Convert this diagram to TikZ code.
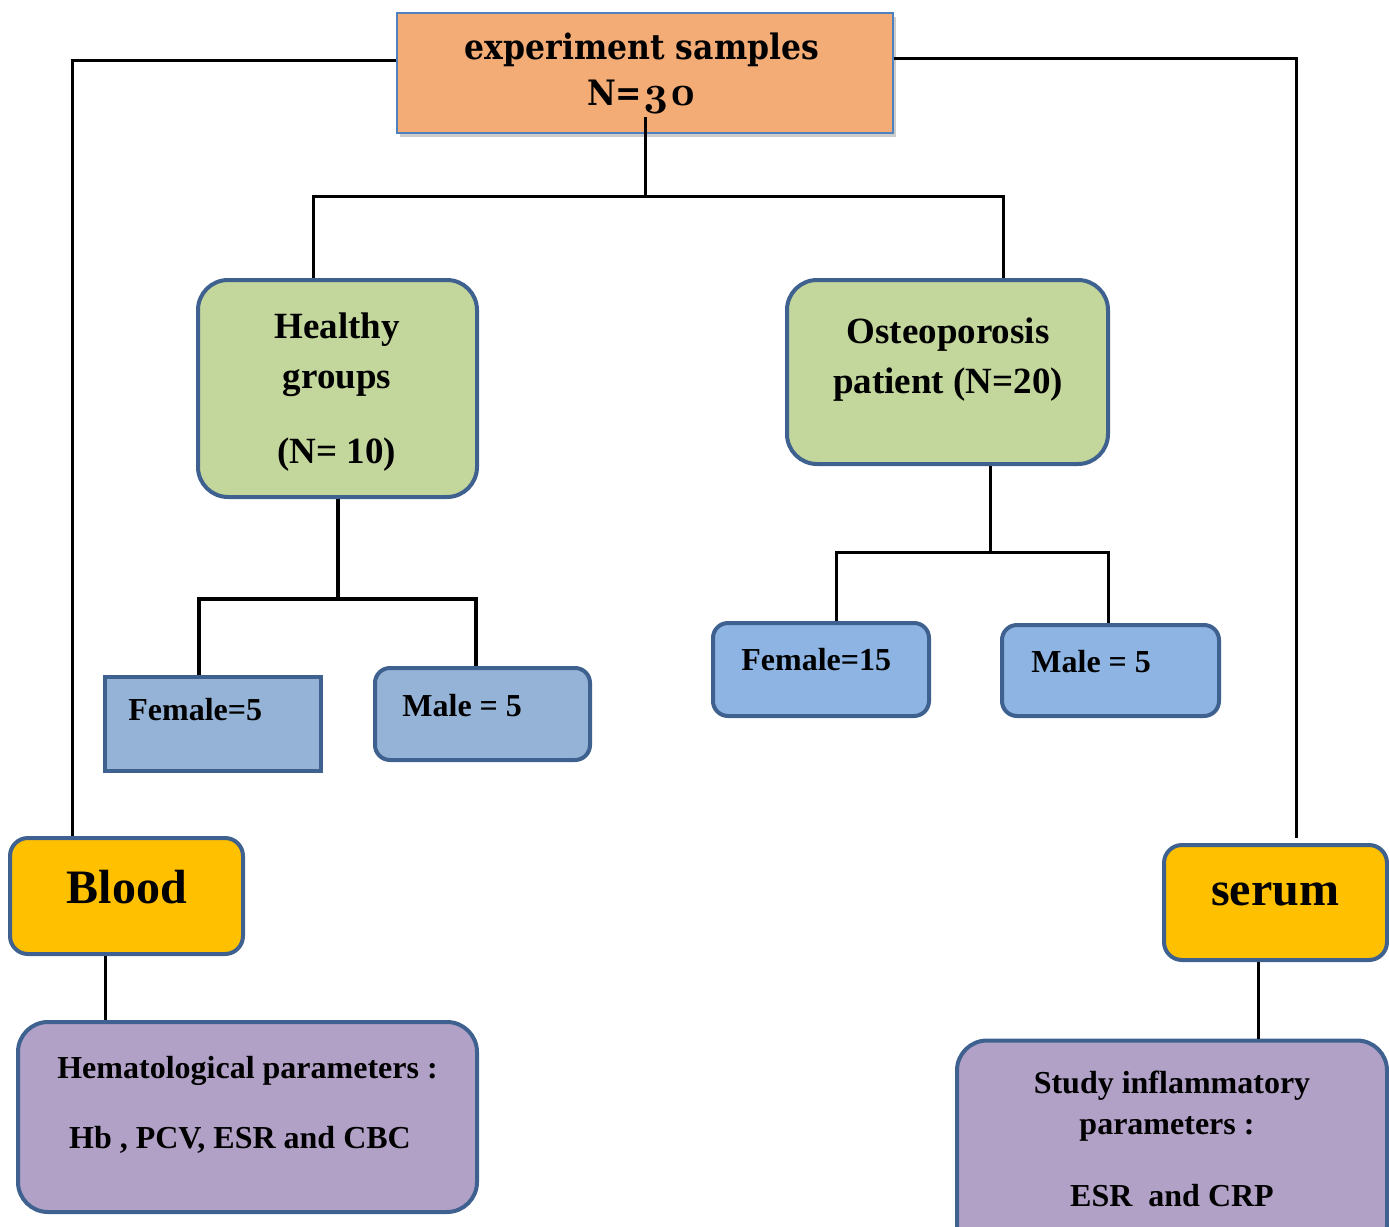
\documentclass[tikz,border=0pt]{standalone}
\usepackage{fontspec}
\setmainfont{Liberation Serif}
\newfontfamily\topfont{DejaVu Serif Condensed}
\newfontfamily\oldnum[Extension=.otf, Numbers=OldStyle]{lmroman10-bold}
\usetikzlibrary{shadows}
\definecolor{bordblue}{RGB}{62,97,143}
\definecolor{topborder}{RGB}{79,129,189}
\definecolor{toporange}{RGB}{244,172,118}
\definecolor{boxgreen}{RGB}{195,214,155}
\definecolor{boxblueA}{RGB}{149,179,215}
\definecolor{boxblueB}{RGB}{141,180,226}
\definecolor{boxyellow}{RGB}{255,192,0}
\definecolor{boxpurple}{RGB}{178,161,199}
\tikzset{
  topbox/.style={draw=topborder, line width=0.8pt, fill=toporange, inner sep=0pt,
    drop shadow={shadow xshift=1.5pt, shadow yshift=-2pt, opacity=0.4}},
  roundbox/.style={draw=bordblue, line width=2pt, inner sep=0pt},
  conn/.style={draw=black, line width=1.5pt},
  connthick/.style={draw=black, line width=2pt},
  txt/.style={text=black, inner sep=0pt, align=center, font=\bfseries},
}
\begin{document}
\begin{tikzpicture}[x=0.5pt,y=-0.5pt]
\useasboundingbox (0,0) rectangle (1389,1227);
\fill[white] (0,0) rectangle (1389,1227);
\clip (0,0) rectangle (1389,1227);

% boxes
\node[topbox, minimum width=248pt, minimum height=60pt] (top) at (645,73) {};
\node[roundbox, fill=boxgreen, rounded corners=15pt, minimum width=139.5pt, minimum height=108.5pt] (healthy) at (337.5,388.5) {};
\node[roundbox, fill=boxgreen, rounded corners=15pt, minimum width=160.5pt, minimum height=92pt] (osteo) at (947.5,372) {};
\node[roundbox, fill=boxblueA, minimum width=108pt, minimum height=47pt] (f5) at (213,724) {};
\node[roundbox, fill=boxblueA, rounded corners=7.5pt, minimum width=107.5pt, minimum height=46pt] (m5) at (482.5,714) {};
\node[roundbox, fill=boxblueB, rounded corners=7.5pt, minimum width=108pt, minimum height=46.5pt] (f15) at (821,669.5) {};
\node[roundbox, fill=boxblueB, rounded corners=7.5pt, minimum width=108.5pt, minimum height=45.5pt] (m5r) at (1110.5,670.5) {};
\node[roundbox, fill=boxyellow, rounded corners=9pt, minimum width=116.5pt, minimum height=58pt] (blood) at (126.5,896) {};
\node[roundbox, fill=boxyellow, rounded corners=9pt, minimum width=111.5pt, minimum height=57.5pt] (serum) at (1275.5,902.5) {};
\node[roundbox, fill=boxpurple, rounded corners=15pt, minimum width=229.5pt, minimum height=95pt] (hemato) at (247.5,1117) {};
\node[roundbox, fill=boxpurple, rounded corners=15pt, minimum width=215pt, minimum height=107.5pt] (study) at (1172,1148) {};

% texts
\node[txt, font=\topfont\bfseries\fontsize{17.5}{23}\selectfont] (toptxt) at (642,74) {experiment samples\\N={\oldnum\bfseries\fontsize{21}{23}\selectfont 30}};
\node[txt, font=\bfseries\fontsize{18.5}{25}\selectfont] (healthytxt) at (337,392) {Healthy\\groups\\[12.5pt](N= 10)};
\node[txt, font=\bfseries\fontsize{18.5}{25}\selectfont] (osteotxt) at (948,360) {Osteoporosis\\patient (N=20)};
\node[txt, anchor=west, font=\bfseries\fontsize{16}{20}\selectfont] (f5txt) at (128,710) {Female=5};
\node[txt, anchor=west, font=\bfseries\fontsize{16}{20}\selectfont] (m5txt) at (402,706) {Male = 5};
\node[txt, anchor=west, font=\bfseries\fontsize{16}{20}\selectfont] (f15txt) at (741,660) {Female=15};
\node[txt, anchor=west, font=\bfseries\fontsize{16}{20}\selectfont] (m5rtxt) at (1031,662) {Male = 5};
\node[txt, font=\bfseries\fontsize{24}{28}\selectfont] (bloodtxt) at (127,887) {Blood};
\node[txt, font=\bfseries\fontsize{24}{28}\selectfont] (serumtxt) at (1275,894) {serum};
\node[txt, font=\bfseries\fontsize{16}{20}\selectfont] (hem1) at (247.5,1071) {Hematological parameters :};
\node[txt, font=\bfseries\fontsize{16}{20}\selectfont] (hem2) at (240,1140) {Hb , PCV, ESR and CBC};
\node[txt, font=\bfseries\fontsize{16}{20}\selectfont] (st1) at (1172,1086) {Study inflammatory};
\node[txt, font=\bfseries\fontsize{16}{20}\selectfont] (st2) at (1167,1129) {parameters :};
\node[txt, font=\bfseries\fontsize{16}{20}\selectfont] (st3) at (1172,1196) {ESR\ \ and CRP};

% connector end points
\coordinate (tc) at (645,117);
\coordinate (sr) at (1296,838);

% connectors
\draw[conn] (top.west |- 0,60) -- (72,60) -- (blood.north -| 72,0);
\draw[conn] (top.east |- 0,58) -- (1296,58) -- (sr);
\draw[conn] (tc) -- (645,196);
\draw[conn] (healthy.north -| 313,0) |- (645,196) -| (osteo.north -| 1003,0);
\draw[connthick] (healthy.south) -- (337.5,599);
\draw[connthick] (f5.north -| 199,0) |- (337.5,599) -| (m5.north -| 476,0);
\draw[conn] (osteo.south -| 990,0) -- (990,552);
\draw[conn] (f15.north -| 836,0) |- (990,552) -| (m5r.north -| 1108,0);
\draw[conn] (blood.south -| 105,0) -- (hemato.north -| 105,0);
\draw[conn] (serum.south -| 1258,0) -- (study.north -| 1258,0);
\end{tikzpicture}
\end{document}
